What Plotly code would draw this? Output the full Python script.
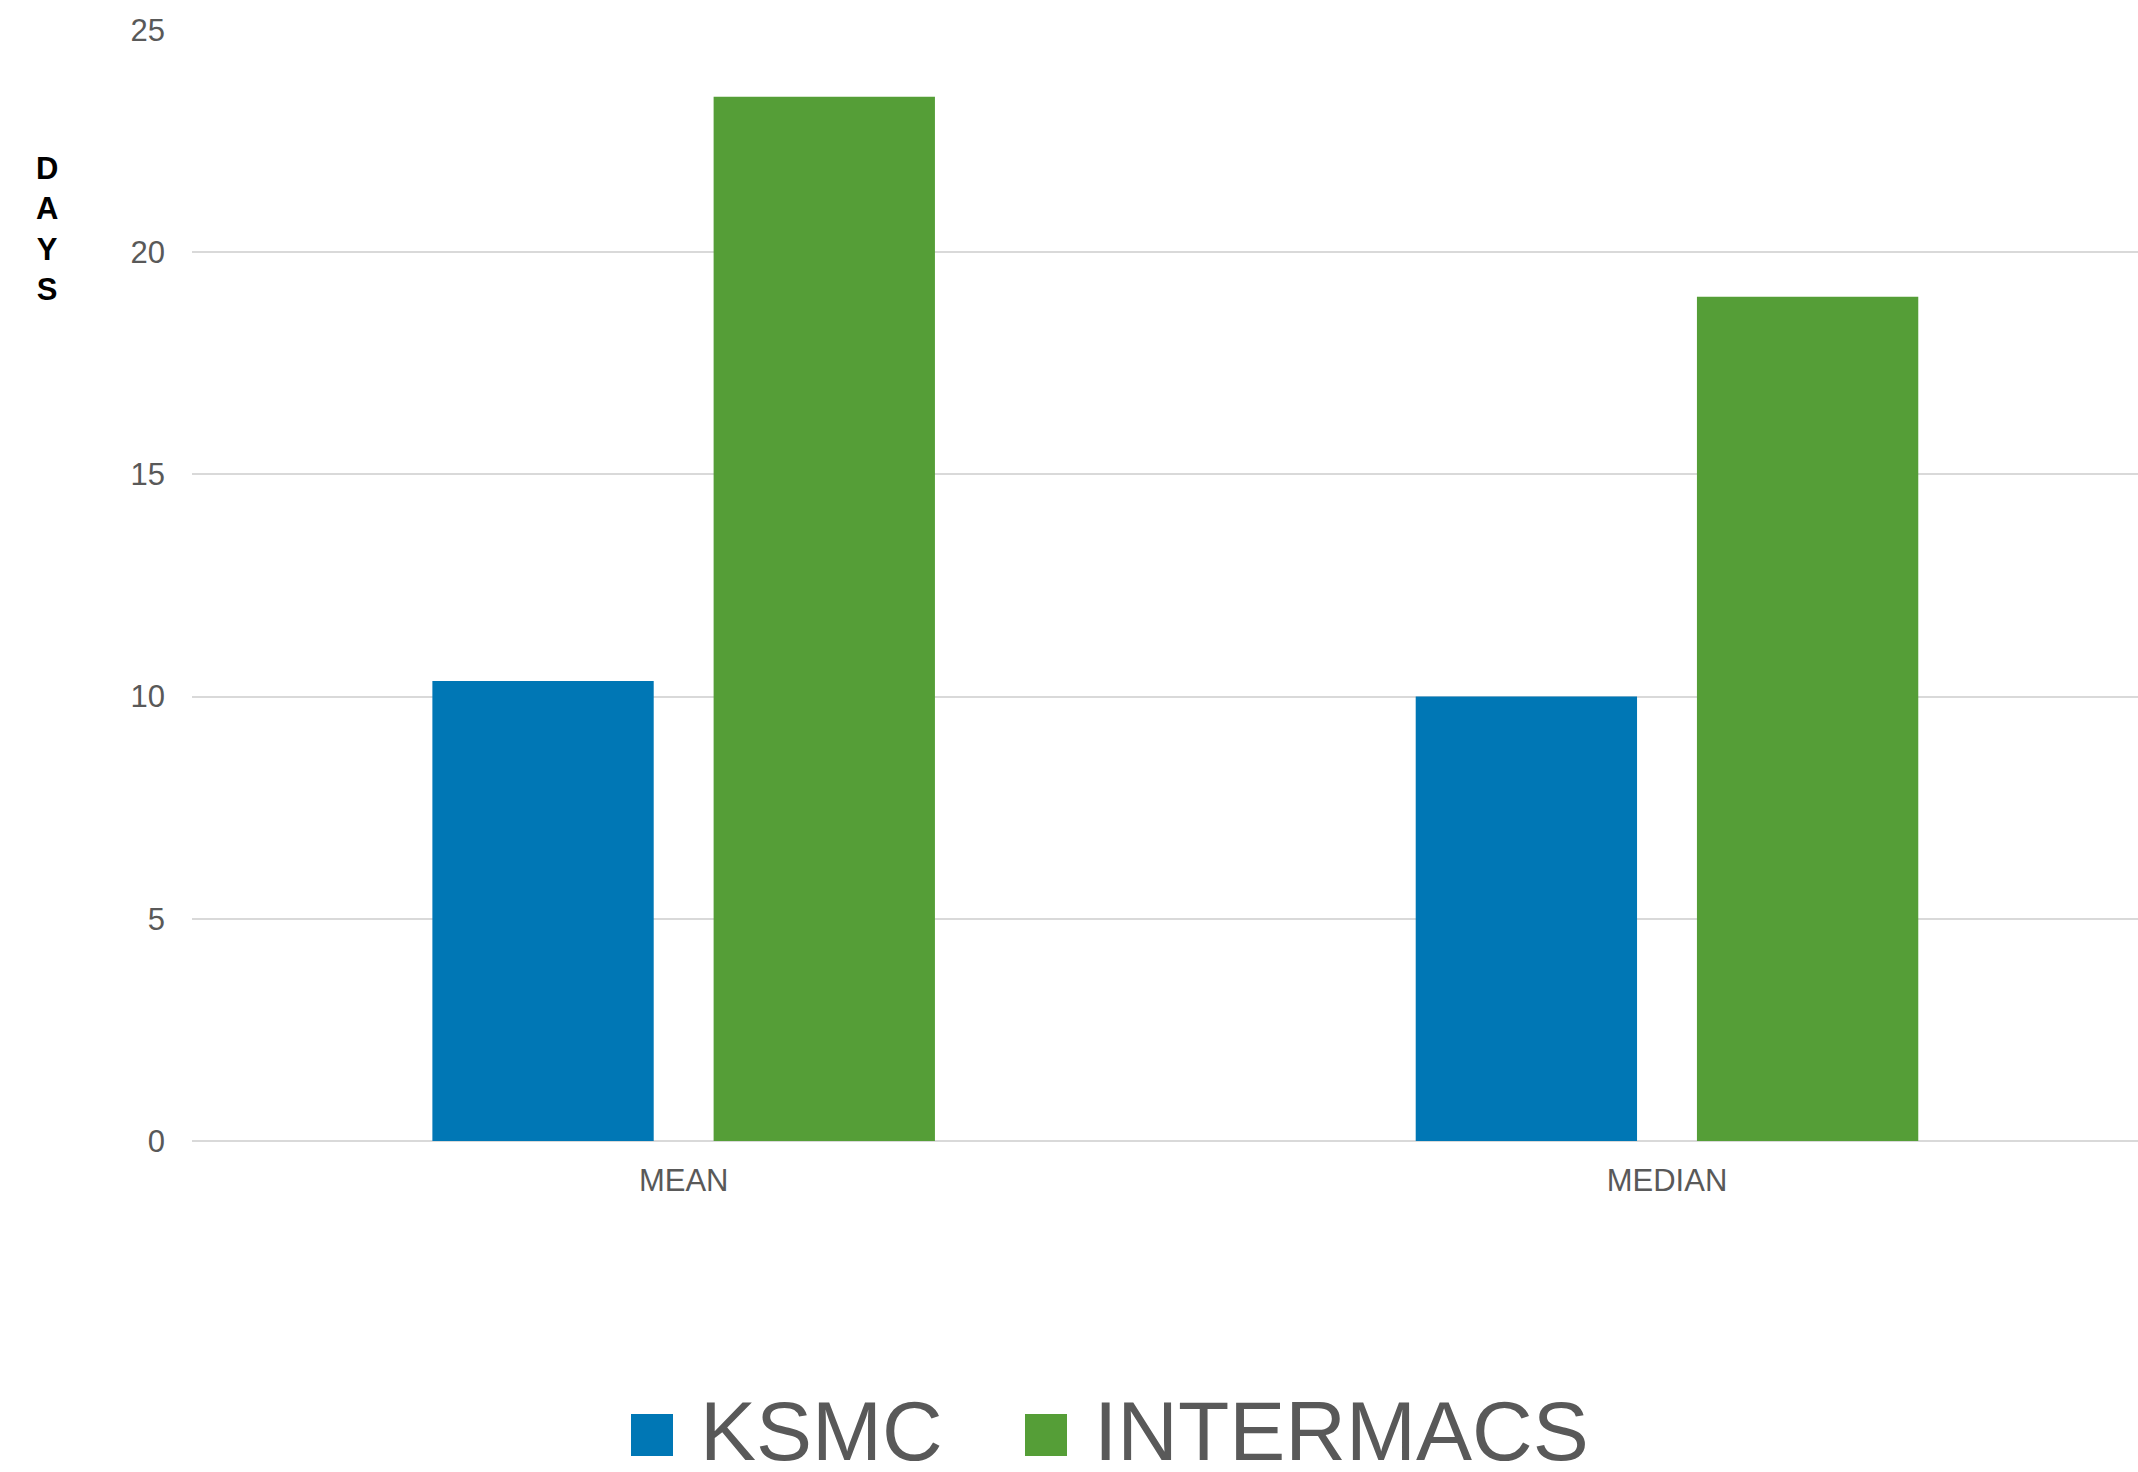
import plotly.graph_objects as go

categories = ["MEAN", "MEDIAN"]
series_names = ["KSMC", "INTERMACS"]
ksmc_values = [10.35, 10.0]
intermacs_values = [23.5, 19.0]
series_colors = ["#0077B5", "#559E37"]
y_ticks = [0, 5, 10, 15, 20, 25]

W, H = 2138, 1472
fig = go.Figure()
for name, vals, col in zip(series_names, [ksmc_values, intermacs_values], series_colors):
    fig.add_trace(go.Bar(x=categories, y=vals, name=name, marker=dict(color=col, line=dict(width=0)),
                         showlegend=False))

font_family = "Liberation Sans, Arial, sans-serif"
fig.update_layout(
    width=W, height=H,
    margin=dict(l=192, r=0, t=30, b=331),
    paper_bgcolor="white", plot_bgcolor="white",
    barmode="group", bargap=0.428, bargroupgap=0.213,
    font=dict(family=font_family, color="#595959"),
    xaxis=dict(range=[-0.5, 1.479], showgrid=False, showline=False, zeroline=False,
               tickfont=dict(size=31, color="#595959"), ticks="", ticklabelstandoff=18),
    yaxis=dict(range=[0, 25], tickvals=y_ticks, showgrid=True, gridcolor="#D9D9D9", gridwidth=2,
               zeroline=True, zerolinecolor="#D9D9D9", zerolinewidth=2, showline=False,
               tickfont=dict(size=31, color="#595959"), ticks="", ticklabelstandoff=26),
)

# Vertical stacked axis title
fig.add_annotation(text="D<br>A<br>Y<br>S", xref="paper", yref="paper", x=(47 - 192) / (W - 192),
                   y=1 - (229 - 30) / (1141 - 30), xanchor="center", yanchor="middle", showarrow=False,
                   font=dict(size=31, color="black", family=font_family, weight="bold"), align="center")

# Custom legend built from series names/colors
legend_items = [(631, 698), (1025, 1092)]
sq = 42
yc_sq = 1435
yc_txt = 1431
for (sx, tx), name, col in zip(legend_items, series_names, series_colors):
    fig.add_shape(type="rect", xref="paper", yref="paper",
                  x0=(sx - 192) / (W - 192), x1=(sx + sq - 192) / (W - 192),
                  y0=(1141 - (yc_sq + sq / 2)) / (1141 - 30), y1=(1141 - (yc_sq - sq / 2)) / (1141 - 30),
                  fillcolor=col, line=dict(width=0))
    fig.add_annotation(text=name, xref="paper", yref="paper", x=(tx - 192) / (W - 192),
                       y=(1141 - yc_txt) / (1141 - 30), xanchor="left", yanchor="middle", showarrow=False,
                       font=dict(size=84, color="#595959", family=font_family))

fig.write_html("out.html")
